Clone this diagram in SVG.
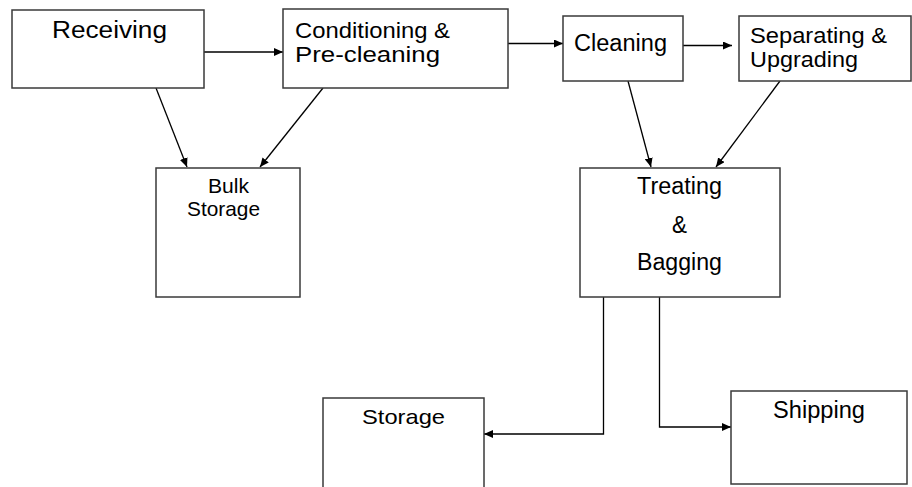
<svg xmlns="http://www.w3.org/2000/svg" width="912" height="487" viewBox="0 0 912 487">
  <style>
    .box { fill: #ffffff; stroke: #3a3a3a; stroke-width: 1.5; }
    .lbl { font-family: "Liberation Sans", Arial, sans-serif; font-size: 23px; fill: #000000; }
    .mid { font-size: 22px; }
    .sm { font-size: 21px; }
    .wire { fill: none; stroke: #000000; stroke-width: 1.3; marker-end: url(#tip); }
  </style>
  <defs>
    <marker id="tip" markerUnits="userSpaceOnUse" markerWidth="10" markerHeight="8" refX="9" refY="4" orient="auto">
      <path d="M0,0 L9,4 L0,8 z" fill="#000000"/>
    </marker>
  </defs>

  <rect width="912" height="487" fill="#ffffff"/>

  <g id="connectors">
    <line class="wire" x1="204" y1="52" x2="283" y2="52"/>
    <line class="wire" x1="508" y1="43.5" x2="563" y2="43.5"/>
    <line class="wire" x1="683" y1="45.5" x2="732" y2="45.5"/>
    <line class="wire" x1="156" y1="88" x2="187" y2="167"/>
    <line class="wire" x1="323" y1="88" x2="260" y2="167"/>
    <line class="wire" x1="628" y1="81" x2="651" y2="167"/>
    <line class="wire" x1="780" y1="81" x2="716" y2="167"/>
    <polyline class="wire" points="603.5,297 603.5,434 484,434"/>
    <polyline class="wire" points="659.5,297 659.5,427 731,427"/>
  </g>

  <g id="receiving">
    <rect class="box" x="12" y="10" width="192" height="78"/>
    <text class="lbl" x="52" y="37.5" textLength="115" lengthAdjust="spacingAndGlyphs">Receiving</text>
  </g>

  <g id="conditioning">
    <rect class="box" x="283" y="9" width="225" height="79"/>
    <text class="lbl mid" x="295" y="38" textLength="155" lengthAdjust="spacingAndGlyphs">Conditioning &amp;</text>
    <text class="lbl mid" x="295" y="62" textLength="145" lengthAdjust="spacingAndGlyphs">Pre-cleaning</text>
  </g>

  <g id="cleaning">
    <rect class="box" x="563" y="16" width="120" height="65"/>
    <text class="lbl" x="574" y="50.5" textLength="93" lengthAdjust="spacingAndGlyphs">Cleaning</text>
  </g>

  <g id="separating">
    <rect class="box" x="739" y="16" width="172" height="65"/>
    <text class="lbl mid" x="750" y="43" textLength="137" lengthAdjust="spacingAndGlyphs">Separating &amp;</text>
    <text class="lbl mid" x="750" y="67" textLength="108" lengthAdjust="spacingAndGlyphs">Upgrading</text>
  </g>

  <g id="bulk-storage">
    <rect class="box" x="156" y="168" width="144" height="129"/>
    <text class="lbl sm" x="208" y="193" textLength="41" lengthAdjust="spacingAndGlyphs">Bulk</text>
    <text class="lbl sm" x="187" y="216" textLength="73" lengthAdjust="spacingAndGlyphs">Storage</text>
  </g>

  <g id="treating-bagging">
    <rect class="box" x="580" y="168" width="200" height="129"/>
    <text class="lbl" x="637" y="194" textLength="85" lengthAdjust="spacingAndGlyphs">Treating</text>
    <text class="lbl" x="672" y="233" textLength="15" lengthAdjust="spacingAndGlyphs">&amp;</text>
    <text class="lbl" x="637" y="270" textLength="85" lengthAdjust="spacingAndGlyphs">Bagging</text>
  </g>

  <g id="storage">
    <rect class="box" x="323" y="398" width="161" height="100"/>
    <text class="lbl sm" x="362" y="423.5" textLength="83" lengthAdjust="spacingAndGlyphs">Storage</text>
  </g>

  <g id="shipping">
    <rect class="box" x="731" y="391" width="176" height="93"/>
    <text class="lbl" x="773" y="418" textLength="92" lengthAdjust="spacingAndGlyphs">Shipping</text>
  </g>
</svg>
